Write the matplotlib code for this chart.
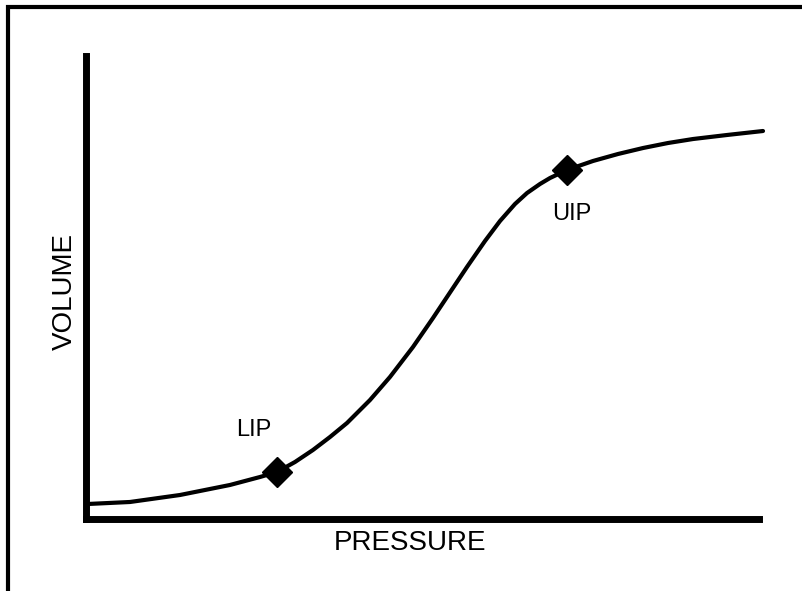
import matplotlib.pyplot as plt
from matplotlib.lines import Line2D

plt.rcParams["font.family"] = ["Liberation Sans", "DejaVu Sans"]

# pressure-volume curve (arbitrary units 0-100)
pressure = [0.30, 6.54, 13.98, 21.41, 25.87, 28.40, 31.08, 33.75, 36.28, 38.81,
            42.23, 45.20, 48.62, 51.60, 54.57, 56.65, 59.33, 61.56, 63.79, 65.58,
            67.51, 69.00, 71.52, 75.39, 79.11, 82.83, 86.54, 90.26, 95.32, 100.67]
volume = [3.24, 3.67, 5.18, 7.34, 9.06, 10.14, 12.30, 14.89, 17.69, 20.71,
          25.67, 30.64, 37.11, 43.37, 49.84, 54.37, 59.98, 64.29, 67.96, 70.33,
          72.28, 73.57, 75.30, 77.24, 78.75, 80.04, 81.12, 81.98, 82.85, 83.71]

point_names = ["LIP", "UIP"]
point_pressure = [28.4, 71.5]
point_volume = [10.1, 75.2]
label_pressure = [24.9, 72.3]
label_volume = [19.2, 65.8]

W, H = 802, 591
fig = plt.figure(figsize=(W / 100, H / 100), dpi=100)

# axes box in pixels
left, right, bottom, top = 86, 758.5, 519, 55.5
ax = fig.add_axes([left / W, 1 - bottom / H, (right - left) / W, (bottom - top) / H])
ax.set_xlim(0, 100)
ax.set_ylim(0, 100)
ax.set_xticks([])
ax.set_yticks([])
for side in ["top", "right"]:
    ax.spines[side].set_visible(False)
for side in ["left", "bottom"]:
    ax.spines[side].set_linewidth(5)
    ax.spines[side].set_capstyle("projecting")

ax.plot(pressure, volume, color="black", lw=3, solid_capstyle="round",
        solid_joinstyle="round", clip_on=False)
ax.plot(point_pressure, point_volume, "D", color="black", ms=15, clip_on=False)

for name, px, vy in zip(point_names, label_pressure, label_volume):
    ax.text(px, vy, name, fontsize=17, ha="center", va="center")

ax.text(48.2, -5.2, "PRESSURE", fontsize=20, ha="center", va="center", clip_on=False)
ax.text(-3.1, 49.0, "VOLUME", fontsize=20, ha="center", va="center",
        rotation=90, clip_on=False)

# outer frame (cut off at right and bottom edges)
fx = 8 / W
fy = 1 - 7 / H
fig.add_artist(Line2D([fx, fx, 1.0], [0.0, fy, fy], transform=fig.transFigure,
                      color="black", lw=3, solid_joinstyle="miter"))

fig.savefig("out.png", dpi=100)
